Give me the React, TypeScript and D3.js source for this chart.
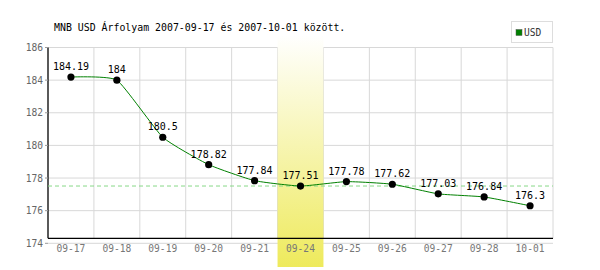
import React from "react";
import * as d3 from "d3";

const categories = ["09-17", "09-18", "09-19", "09-20", "09-21", "09-24", "09-25", "09-26", "09-27", "09-28", "10-01"];
const values = [184.19, 184, 180.5, 178.82, 177.84, 177.51, 177.78, 177.62, 177.03, 176.84, 176.3];
const valueLabels = ["184.19", "184", "180.5", "178.82", "177.84", "177.51", "177.78", "177.62", "177.03", "176.84", "176.3"];
const yTicks = [174, 176, 178, 180, 182, 184, 186];
const highlightCategory = "09-24";
const referenceValue = 177.51;
const title = "MNB USD Árfolyam 2007-09-17 és 2007-10-01 között.";
const seriesName = "USD";

const W = 600;
const H = 270;
const left = 48;
const right = 553;
const top = 47.5;
const bottom = 243.3;
const axisY = 238.3;
const mono = "'DejaVu Sans Mono', 'Liberation Mono', monospace";

export default function App() {
  const x = d3.scaleBand<string>().domain(categories).range([left, right]).padding(0);
  const y = d3.scaleLinear().domain([174, 186]).range([bottom, top]);
  const cx = (c: string) => (x(c) as number) + x.bandwidth() / 2;
  const pts: [number, number][] = categories.map((c, i) => [cx(c), y(values[i])]);
  const line = d3.line().curve(d3.curveCardinal.tension(0.55))(pts) as string;
  const hx = x(highlightCategory) as number;

  return (
    <svg width={W} height={H} style={{ position: "absolute", left: 0, top: 0, background: "#fff" }}>
      <defs>
        <linearGradient id="hl" x1="0" y1="0" x2="0" y2="1">
          <stop offset="0" stopColor="#ffffff" />
          <stop offset="1" stopColor="#eeea5c" />
        </linearGradient>
      </defs>
      <text x={54} y={31} fontFamily={mono} fontSize={9.9} fill="#000">{title}</text>

      {/* grid */}
      {yTicks.map((t) => (
        <line key={"gy" + t} x1={left} x2={right} y1={y(t)} y2={y(t)} stroke="#d8d8d8" strokeWidth={1} />
      ))}
      {categories.map((c) => (
        <line key={"gx" + c} x1={(x(c) as number) + x.bandwidth()} x2={(x(c) as number) + x.bandwidth()} y1={top} y2={axisY} stroke="#d8d8d8" strokeWidth={1} />
      ))}

      {/* highlight */}
      <rect x={hx} y={35} width={x.bandwidth()} height={232} fill="url(#hl)" />

      {/* axes */}
      <line x1={left} x2={left} y1={top} y2={axisY} stroke="#000" strokeWidth={1.3} />
      <line x1={left} x2={right} y1={axisY} y2={axisY} stroke="#000" strokeWidth={1.3} />

      {/* reference dashed */}
      <line x1={left} x2={right} y1={y(referenceValue)} y2={y(referenceValue)} stroke="#88d888" strokeWidth={1} strokeDasharray="4,3" />

      {/* y labels */}
      {yTicks.map((t) => (
        <g key={"yl" + t}>
          <line x1={left - 3} x2={left} y1={y(t)} y2={y(t)} stroke="#999" />
          <text x={43} y={y(t) + 3.5} textAnchor="end" fontFamily={mono} fontSize={9.6} fill="#666">{t}</text>
        </g>
      ))}
      {/* x labels */}
      {categories.map((c) => (
        <text key={"xl" + c} x={cx(c)} y={252} textAnchor="middle" fontFamily={mono} fontSize={9.6} fill="#777">{c}</text>
      ))}

      {/* series */}
      <path d={line} fill="none" stroke="#008000" strokeWidth={1} />
      {pts.map((p, i) => (
        <g key={"p" + i}>
          <circle cx={p[0]} cy={p[1]} r={3.6} fill="#000" />
          <text x={p[0]} y={p[1] - 7} textAnchor="middle" fontFamily={mono} fontSize={10} fill="#000">{valueLabels[i]}</text>
        </g>
      ))}

      {/* legend */}
      <rect x={511.5} y={21.5} width={41} height={21} fill="#fff" stroke="#ddd" strokeWidth={1} />
      <rect x={516} y={29.5} width={6} height={6} fill="#008000" stroke="#555" strokeWidth={0.5} />
      <text x={524} y={36} fontFamily={mono} fontSize={9.6} fill="#333">{seriesName}</text>
    </svg>
  );
}
